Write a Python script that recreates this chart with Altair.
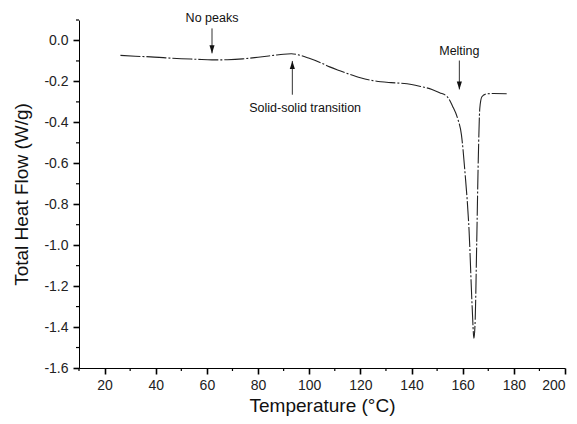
import altair as alt
import pandas as pd

# ---- data ----
temps = [26.2, 32, 38, 44, 50, 56, 62, 68, 74, 80, 86, 90, 93, 96, 100, 104, 108,
         112, 116, 120, 124, 128, 132, 136, 140, 144, 148, 151, 154, 156, 158,
         159.5, 161, 162.5, 163.7, 164.4, 164.9, 165.5, 166.1, 166.7, 167.5, 169,
         172, 177.2]
heat_flow = [-0.073, -0.077, -0.080, -0.085, -0.089, -0.092, -0.095, -0.094, -0.090,
             -0.082, -0.073, -0.067, -0.065, -0.071, -0.087, -0.106, -0.129, -0.148,
             -0.166, -0.182, -0.194, -0.202, -0.206, -0.209, -0.215, -0.226, -0.239,
             -0.255, -0.275, -0.32, -0.38, -0.46, -0.66, -0.93, -1.30, -1.455, -1.36,
             -0.98, -0.58, -0.33, -0.275, -0.262, -0.259, -0.26]

ann_labels = ["No peaks", "Solid-solid transition", "Melting"]
ann_arrow_x = [62.0, 93.4, 158.7]
ann_text_x = [62.0, 98.4, 158.7]
ann_text_y = [0.112, -0.33, -0.049]
ann_arrow_from = [0.059, -0.265, -0.098]
ann_arrow_tip = [-0.063, -0.10, -0.239]
ann_dir = ["down", "up", "down"]

x_major = list(range(20, 201, 20))
x_minor = list(range(10, 200, 20))
y_major = [round(-1.6 + 0.2 * i, 1) for i in range(9)]
y_minor = [round(-1.5 + 0.2 * i, 1) for i in range(9)]

curve = pd.DataFrame({"T": temps, "HF": heat_flow})
ann = pd.DataFrame({"label": ann_labels, "ax": ann_arrow_x, "tx": ann_text_x,
                    "ty": ann_text_y, "y0": ann_arrow_from, "y1": ann_arrow_tip,
                    "dir": ann_dir})
xminor_df = pd.DataFrame({"v": x_minor})
yminor_df = pd.DataFrame({"v": y_minor})

FONT = "Liberation Sans"
W, H = 486, 348

xscale = alt.Scale(domain=[10, 200], nice=False, zero=False)
yscale = alt.Scale(domain=[-1.6, 0.1], nice=False, zero=False)

xaxis = alt.Axis(
    title="Temperature (°C)", values=x_major, format="d",
    tickSize=6, tickWidth=1.6,
    grid=False, domainColor="#000", tickColor="#000", labelColor="#222",
    labelFont=FONT, labelFontSize=14, titleFont=FONT, titleFontSize=19,
    titleFontWeight="normal", titleColor="#111", labelPadding=4, titlePadding=4,
    labelFlush=True, labelOverlap=False,
)
yaxis = alt.Axis(
    title="Total Heat Flow (W/g)", values=y_major, format=".1f",
    labelExpr="replace(datum.label, '\u2212', '-')",
    tickSize=6, tickWidth=1.6,
    grid=False, domainColor="#000", tickColor="#000", labelColor="#222",
    labelFont=FONT, labelFontSize=14, titleFont=FONT, titleFontSize=19,
    titleFontWeight="normal", titleColor="#111", labelPadding=5, titlePadding=12,
    labelFlush=False, labelOverlap=False,
)

line = alt.Chart(curve).mark_line(
    color="#222", strokeWidth=1.1, strokeDash=[20, 2, 2, 2], interpolate="monotone"
).encode(
    x=alt.X("T:Q", scale=xscale, axis=xaxis),
    y=alt.Y("HF:Q", scale=yscale, axis=yaxis),
)

# minor ticks (short, outward)
xminor = alt.Chart(xminor_df).mark_rule(color="#000", strokeWidth=1.2).encode(
    x=alt.X("v:Q", scale=xscale),
    y=alt.value(H), y2=alt.value(H + 3),
)
yminor = alt.Chart(yminor_df).mark_rule(color="#000", strokeWidth=1.2).encode(
    y=alt.Y("v:Q", scale=yscale),
    x=alt.value(0), x2=alt.value(-3),
)

shafts = alt.Chart(ann).mark_rule(color="#333", strokeWidth=1).encode(
    x=alt.X("ax:Q", scale=xscale),
    y=alt.Y("y0:Q", scale=yscale),
    y2="y1:Q",
)

head_down = alt.Chart(ann).transform_filter("datum.dir == 'down'").mark_point(
    shape="M-0.32,-1L0.32,-1L0,0Z", filled=True, size=256, color="#111", opacity=1
).encode(x=alt.X("ax:Q", scale=xscale), y=alt.Y("y1:Q", scale=yscale))

head_up = alt.Chart(ann).transform_filter("datum.dir == 'up'").mark_point(
    shape="M-0.32,1L0.32,1L0,0Z", filled=True, size=256, color="#111", opacity=1
).encode(x=alt.X("ax:Q", scale=xscale), y=alt.Y("y1:Q", scale=yscale))

texts = alt.Chart(ann).mark_text(
    font=FONT, fontSize=12.5, color="#111", align="center", baseline="middle"
).encode(
    x=alt.X("tx:Q", scale=xscale),
    y=alt.Y("ty:Q", scale=yscale),
    text="label:N",
)

chart = alt.layer(line, xminor, yminor, shafts, head_down, head_up, texts).properties(
    width=W, height=H,
    autosize=alt.AutoSizeParams(type="none"),
    padding={"left": 71, "top": 12, "right": 4, "bottom": 48},
    background="white",
).configure_view(stroke=None)

chart.save("out.html", embed_options={"renderer": "svg", "actions": False})
